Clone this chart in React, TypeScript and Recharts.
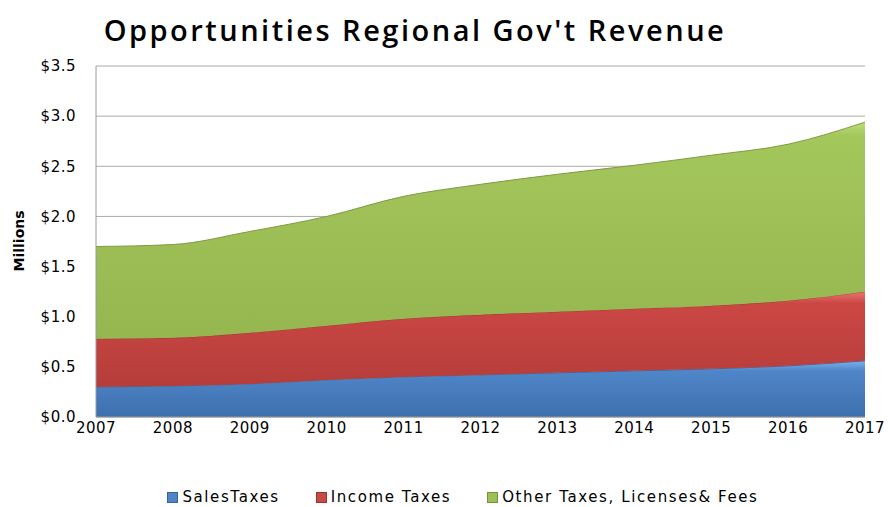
import React from 'react';
import { AreaChart, Area, XAxis, YAxis, CartesianGrid } from 'recharts';

const years = ['2007', '2008', '2009', '2010', '2011', '2012', '2013', '2014', '2015', '2016', '2017'];
const salesTaxes = [0.30, 0.31, 0.33, 0.37, 0.40, 0.42, 0.44, 0.46, 0.48, 0.51, 0.56];
const incomeTaxes = [0.48, 0.48, 0.51, 0.54, 0.58, 0.60, 0.61, 0.62, 0.63, 0.65, 0.69];
const otherTaxes = [0.92, 0.93, 1.01, 1.09, 1.22, 1.30, 1.37, 1.43, 1.50, 1.56, 1.69];
const yTicks = [0, 0.5, 1.0, 1.5, 2.0, 2.5, 3.0, 3.5];

const seriesNames = ['SalesTaxes', 'Income Taxes', 'Other Taxes, Licenses& Fees'];
const seriesColors = ['#4f84c6', '#c84a47', '#9dc057'];

const data = years.map((year, i) => ({
  year,
  sales: salesTaxes[i],
  income: incomeTaxes[i],
  other: otherTaxes[i],
}));

const font = '"DejaVu Sans", sans-serif';
const tickStyle = { fill: '#000', fontSize: 15, fontFamily: font, letterSpacing: 0.5 };

const App: React.FC = () => {
  return (
    <div style={{ position: 'absolute', left: 0, top: 0, width: 888, height: 507, background: '#fff' }}>
      <div
        style={{
          position: 'absolute',
          left: 0,
          top: 12,
          width: 830,
          textAlign: 'center',
          fontFamily: '"Open Sans", sans-serif',
          fontWeight: 600,
          fontSize: 29,
          letterSpacing: 2.5,
          color: '#000',
          lineHeight: '36px',
        }}
      >
        Opportunities Regional Gov't Revenue
      </div>
      <AreaChart width={888} height={507} data={data} margin={{ top: 66, right: 23, bottom: 60, left: 20 }}>
        <defs>
          <linearGradient id="gBlue" x1="0" y1="0" x2="0" y2="1">
            <stop offset="0%" stopColor="#7ab0ea" />
            <stop offset="18%" stopColor="#4f86c9" />
            <stop offset="100%" stopColor="#3d6fae" />
          </linearGradient>
          <linearGradient id="gRed" x1="0" y1="0" x2="0" y2="1">
            <stop offset="0%" stopColor="#ea7572" />
            <stop offset="12%" stopColor="#cb4744" />
            <stop offset="100%" stopColor="#b53d3a" />
          </linearGradient>
          <linearGradient id="gGreen" x1="0" y1="0" x2="0" y2="1">
            <stop offset="0%" stopColor="#bedc7a" />
            <stop offset="6%" stopColor="#a4c75c" />
            <stop offset="100%" stopColor="#96b64f" />
          </linearGradient>
        </defs>
        <CartesianGrid vertical={false} stroke="#ababab" />
        <XAxis
          dataKey="year"
          stroke="#9a9a9a"
          tickLine={false}
          height={30}
          tick={tickStyle}
          tickMargin={-1}
          interval={0}
        />
        <YAxis
          domain={[0, 3.5]}
          ticks={yTicks}
          width={76}
          stroke="#9a9a9a"
          tickLine={false}
          tickMargin={14}
          tick={tickStyle}
          tickFormatter={(v: number) => `$${v.toFixed(1)}`}
          label={{ value: 'Millions', angle: -90, position: 'insideLeft', dx: -6, dy: 30, style: { fontFamily: font, fontSize: 14, fontWeight: 'bold', fill: '#000' } }}
        />
        <Area type="monotone" dataKey="sales" name={seriesNames[0]} stackId="1" stroke="#3a669c" strokeWidth={1} fill="url(#gBlue)" fillOpacity={1} isAnimationActive={false} />
        <Area type="monotone" dataKey="income" name={seriesNames[1]} stackId="1" stroke="#9c3936" strokeWidth={1} fill="url(#gRed)" fillOpacity={1} isAnimationActive={false} />
        <Area type="monotone" dataKey="other" name={seriesNames[2]} stackId="1" stroke="#7f9a42" strokeWidth={1} fill="url(#gGreen)" fillOpacity={1} isAnimationActive={false} />
      </AreaChart>
      <div
        style={{
          position: 'absolute',
          left: 0,
          top: 487,
          width: 926,
          display: 'flex',
          justifyContent: 'center',
          gap: 36,
          fontFamily: font,
          fontSize: 15,
          letterSpacing: 1.6,
          color: '#000',
          lineHeight: '20px',
        }}
      >
        {seriesNames.map((name, i) => (
          <div key={name} style={{ display: 'flex', alignItems: 'center' }}>
            <span style={{ display: 'inline-block', width: 9, height: 9, background: seriesColors[i], border: '1px solid rgba(0,0,0,0.25)', marginRight: 4 }} />
            {name}
          </div>
        ))}
      </div>
    </div>
  );
};

export default App;
